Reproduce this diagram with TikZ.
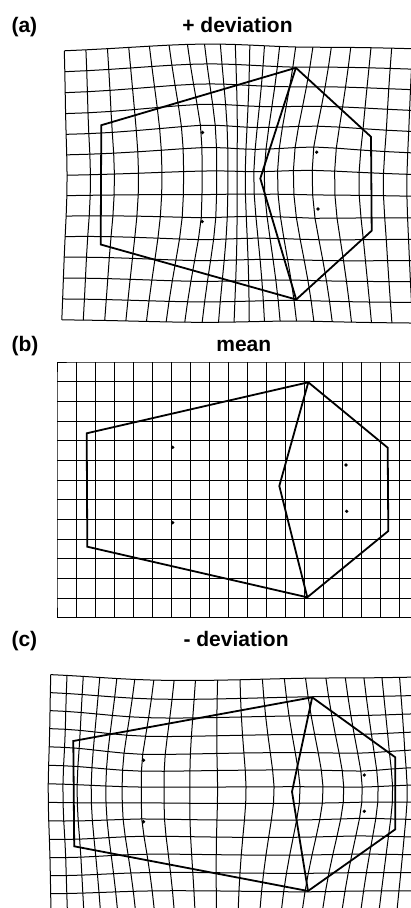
\documentclass[tikz,border=0pt]{standalone}
\usepackage{fontspec}
\setmainfont{Liberation Sans}

% ---- landmarks, pixel frame; order LT, B, RT, LB, RB, T, I, D1, D2, D3, D4 ----
\def\lmnames{LT,B,RT,LB,RB,T,I,D1,D2,D3,D4}
\def\meanpts{86.7/433.3, 307.3/597.3, 387.7/447.7, 87.3/546.7, 388.3/531.0,
  308.3/382.3, 279.3/486.0, 172.7/447.3, 172.7/522.7, 346.0/465.0, 346.7/511.3}
\def\pluspts{101.3/125.2, 296.2/299.5, 371.0/136.8, 100.7/244.5, 371.7/230.7,
  295.9/67.8, 260.3/178.5, 202.5/132.5, 202.2/221.5, 316.7/152.2, 318.0/209.0}
\def\minuspts{73.3/741.0, 308.0/891.0, 395.3/757.3, 74.2/846.3, 395.3/829.3,
  312.2/697.3, 292.0/791.7, 143.5/760.2, 143.5/821.7, 364.3/775.0, 364.3/811.3}

% ---- thin-plate spline: mean landmarks -> target landmarks ----
\newcommand\tpsset[2]{\expandafter\xdef\csname tps@#1\endcsname{#2}}
\newcommand\tpsget[1]{\csname tps@#1\endcsname}
\newcommand\tpsU[4]{(((#1)-(#3))^2+((#2)-(#4))^2)*ln(((#1)-(#3))^2+((#2)-(#4))^2+1e-9)}

\newcommand\tpssolve[1]{%
  \edef\tpslist{#1}%
  \foreach \sx/\sy [count=\k] in \meanpts {\tpsset{sx@\k}{\sx}\tpsset{sy@\k}{\sy}}%
  \foreach \tx/\ty [count=\k] in \tpslist {\tpsset{tx@\k}{\tx}\tpsset{ty@\k}{\ty}}%
  % rows 1-11 interpolate, rows 12-14 are the side conditions
  \foreach \ii in {1,...,11} {%
    \tpsset{M@\ii@1}{1}\tpsset{M@\ii@2}{\tpsget{sx@\ii}}\tpsset{M@\ii@3}{\tpsget{sy@\ii}}%
    \foreach \jj [count=\cc from 4] in {1,...,11}
      {\tpsset{M@\ii@\cc}{\fpeval{\tpsU{\tpsget{sx@\ii}}{\tpsget{sy@\ii}}{\tpsget{sx@\jj}}{\tpsget{sy@\jj}}}}}%
    \tpsset{M@\ii@15}{\tpsget{tx@\ii}}\tpsset{M@\ii@16}{\tpsget{ty@\ii}}%
  }%
  \foreach \ii in {12,13,14} {\foreach \cc in {1,2,3,15,16} {\tpsset{M@\ii@\cc}{0}}}%
  \foreach \jj [count=\cc from 4] in {1,...,11}
    {\tpsset{M@12@\cc}{1}\tpsset{M@13@\cc}{\tpsget{sx@\jj}}\tpsset{M@14@\cc}{\tpsget{sy@\jj}}}%
  % elimination with row pivoting
  \foreach \kk in {1,...,13} {%
    \xdef\tpspiv{\kk}%
    \foreach \ii in {\kk,...,14}
      {\ifnum\fpeval{abs(\tpsget{M@\ii@\kk})>abs(\tpsget{M@\tpspiv@\kk})}=1 \xdef\tpspiv{\ii}\fi}%
    \foreach \cc in {1,...,16} {%
      \xdef\tpstmp{\tpsget{M@\kk@\cc}}%
      \tpsset{M@\kk@\cc}{\tpsget{M@\tpspiv@\cc}}\tpsset{M@\tpspiv@\cc}{\tpstmp}}%
    \pgfmathtruncatemacro\kn{\kk+1}%
    \foreach \ii in {\kn,...,14} {%
      \xdef\tpsf{\fpeval{(\tpsget{M@\ii@\kk})/(\tpsget{M@\kk@\kk})}}%
      \foreach \cc in {\kk,...,16}
        {\tpsset{M@\ii@\cc}{\fpeval{(\tpsget{M@\ii@\cc})-(\tpsf)*(\tpsget{M@\kk@\cc})}}}}%
  }%
  % back substitution: column 15 gives x, column 16 gives y
  \foreach \kk in {14,...,1} {%
    \foreach \cc in {15,16} {%
      \xdef\tpsacc{\tpsget{M@\kk@\cc}}%
      \ifnum\kk<14
        \pgfmathtruncatemacro\kn{\kk+1}%
        \foreach \jj in {\kn,...,14}
          {\xdef\tpsacc{\fpeval{(\tpsacc)-(\tpsget{M@\kk@\jj})*(\tpsget{s@\jj@\cc})}}}%
      \fi
      \tpsset{s@\kk@\cc}{\fpeval{(\tpsacc)/(\tpsget{M@\kk@\kk})}}}}%
}

\newcommand\tpsmap[2]{%
  \xdef\tpsX{\fpeval{(\tpsget{s@1@15})+(\tpsget{s@2@15})*(#1)+(\tpsget{s@3@15})*(#2)}}%
  \xdef\tpsY{\fpeval{(\tpsget{s@1@16})+(\tpsget{s@2@16})*(#1)+(\tpsget{s@3@16})*(#2)}}%
  \foreach \jj [count=\cc from 4] in {1,...,11} {%
    \xdef\tpsk{\fpeval{\tpsU{#1}{#2}{\tpsget{sx@\jj}}{\tpsget{sy@\jj}}}}%
    \xdef\tpsX{\fpeval{(\tpsX)+(\tpsget{s@\cc@15})*(\tpsk)}}%
    \xdef\tpsY{\fpeval{(\tpsY)+(\tpsget{s@\cc@16})*(\tpsk)}}}%
  \xdef\tpsX{\fpeval{round(\tpsX,2)}}\xdef\tpsY{\fpeval{round(\tpsY,2)}}%
}

\begin{document}
\begin{tikzpicture}[x=1pt, y=-1pt, font=\fontsize{21}{25}\selectfont\bfseries,
    gridline/.style={line width=1pt, line join=round},
    outline/.style={line width=1.8pt, line join=miter},
    landmark/.style={fill=black}]
  \path[use as bounding box, fill=white] (0,0) rectangle (411,908);
  \clip (0,0) rectangle (411,908);

  % ---- panel labels and titles ----
  \node[anchor=base west] (lbl-a) at (8,32.3) {(a)};
  \node[anchor=base] (ttl-a) at (237.5,32.3) {+ deviation};
  \node[anchor=base west] (lbl-b) at (8,351.7) {(b)};
  \node[anchor=base] (ttl-b) at (243.8,351.7) {mean};
  \node[anchor=base west] (lbl-c) at (8,646.7) {(c)};
  \node[anchor=base] (ttl-c) at (236.1,646.7) {- deviation};

  % ---- mean grid pushed through each spline ----
  \foreach \p/\pts in {a/\pluspts, b/\meanpts, c/\minuspts} {
    \tpssolve{\pts}
    \foreach \i in {0,...,20} \foreach \j in {0,...,13} {
      \tpsmap{57+19.05*\i}{362+19.68*\j}
      \coordinate (\p-\i-\j) at (\tpsX,\tpsY);
    }
    \foreach \j in {0,...,13}
      \draw[gridline] (\p-0-\j) \foreach \i in {1,...,20} {-- (\p-\i-\j)};
    \foreach \i in {0,...,20}
      \draw[gridline] (\p-\i-0) \foreach \j in {1,...,13} {-- (\p-\i-\j)};
    % landmarks land exactly on the spline targets
    \foreach \nm [count=\k] in \lmnames
      \coordinate (\p-\nm) at (\tpsget{tx@\k},\tpsget{ty@\k});
    \draw[outline] (\p-LT) -- (\p-T) -- (\p-RT) -- (\p-RB) -- (\p-B) -- (\p-LB) -- cycle;
    \draw[outline] (\p-T) -- (\p-I) -- (\p-B);
    \foreach \nm in {D1,D2,D3,D4}
      \fill[landmark] (\p-\nm) circle (1.8pt);
  }
\end{tikzpicture}
\end{document}
